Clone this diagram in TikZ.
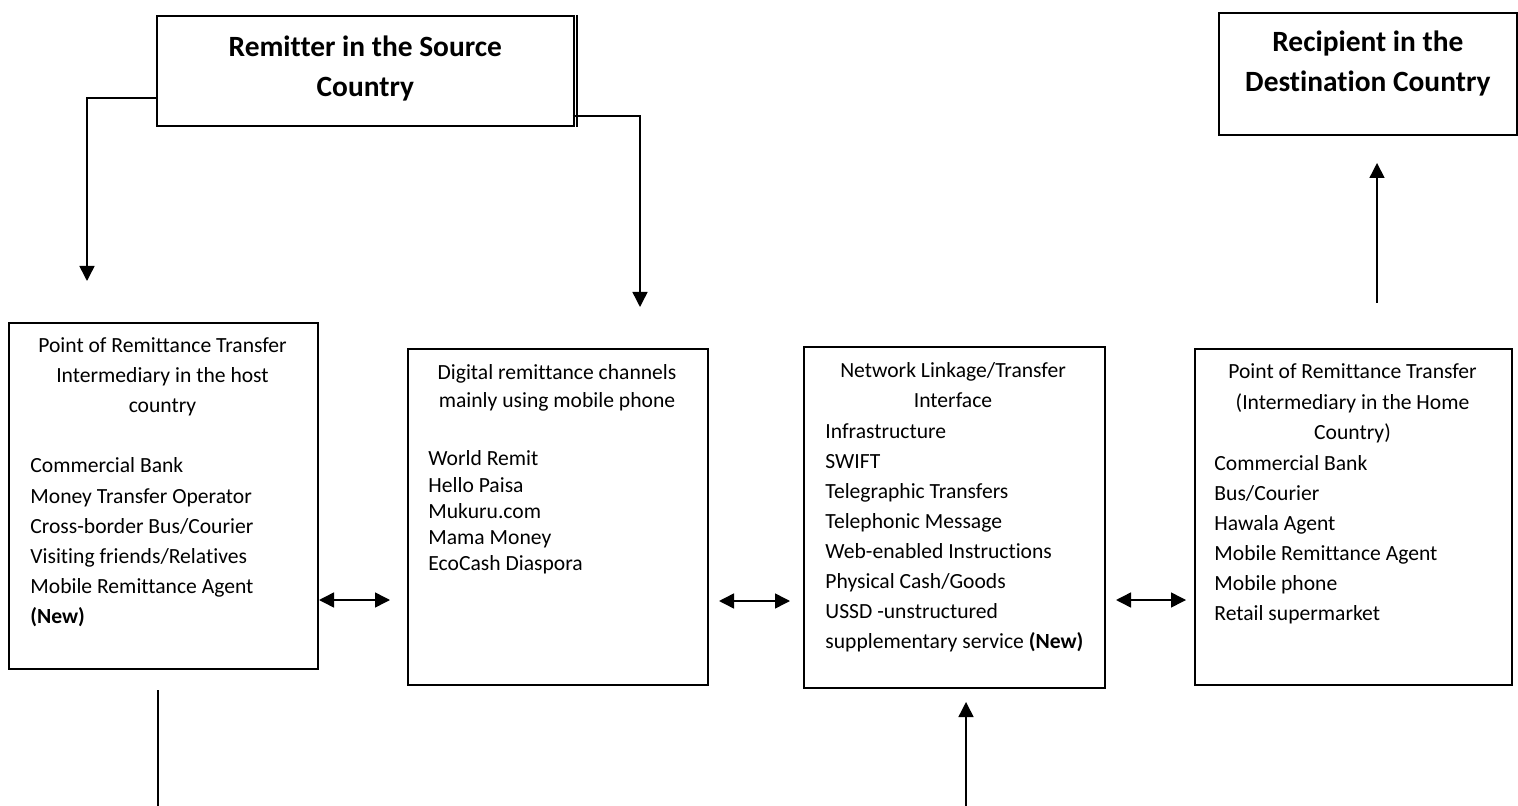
\documentclass[tikz,border=0pt]{standalone}
\usepackage{fontspec}
\setmainfont[Ligatures=NoCommon]{Carlito}
\usetikzlibrary{arrows.meta}
\begin{document}
\begin{tikzpicture}[x=0.5pt,y=-0.5pt,
  box/.style={draw, line width=0.8pt, inner sep=0pt, anchor=north west},
  body/.style={font=\fontsize{10.8}{12}\selectfont, inner sep=0pt},
  title/.style={font=\fontsize{14.7}{17}\selectfont\bfseries, inner sep=0pt, anchor=base},
  plain/.style={line width=0.75pt},
  link/.style={line width=0.75pt, -{Triangle[length=7.5pt,width=7.5pt]}},
  dlink/.style={line width=0.75pt, {Triangle[length=7.5pt,width=7.5pt]}-{Triangle[length=7.5pt,width=7.5pt]}},
]
\useasboundingbox (0,0) rectangle (1518,806);

% boxes
\node[box, minimum width=208.5pt, minimum height=55pt] (remitter) at (156,15) {};
\node[box, minimum width=149pt, minimum height=61pt] (recipient) at (1218,12) {};
\node[box, minimum width=154.5pt, minimum height=173pt] (host) at (8,322) {};
\node[box, minimum width=150pt, minimum height=168pt] (digital) at (407,348) {};
\node[box, minimum width=150.5pt, minimum height=170.5pt] (network) at (803,346) {};
\node[box, minimum width=158.5pt, minimum height=168pt] (home) at (1194,348) {};
% doubled right edge of the remitter box
\draw[line width=0.6pt] ([xshift=1.2pt]remitter.north east) -- ([xshift=1.2pt]remitter.south east);

% titles
\node[title] (rem1) at (remitter.north |- 0,57) {Remitter in the Source};
\node[title] (rem2) at (remitter.north |- 0,97) {Country};
\node[title] (rec1) at (recipient.north |- 0,52) {Recipient in the};
\node[title] (rec2) at (recipient.north |- 0,92) {Destination Country};

% host-country intermediary
\foreach \t [count=\i from 0] in {Point of Remittance Transfer, Intermediary in the host, country}
  \node[body, anchor=base] (hh\i) at ({162.5}, {353+30*\i}) {\t};
\foreach \t [count=\i from 0] in {Commercial Bank, Money Transfer Operator, Cross-border Bus/Courier,
    Visiting friends/Relatives, Mobile Remittance Agent, {\textbf{(New)}}}
  \node[body, anchor=base west] (hl\i) at (30, {473+30*\i}) {\t};

% digital channels
\foreach \t [count=\i from 0] in {Digital remittance channels, mainly using mobile phone}
  \node[body, anchor=base] (dh\i) at (557, {380+28*\i}) {\t};
\foreach \t [count=\i from 0] in {World Remit, Hello Paisa, Mukuru.com, Mama Money, EcoCash Diaspora}
  \node[body, anchor=base west] (dl\i) at (428, {466+26*\i}) {\t};

% network linkage
\foreach \t [count=\i from 0] in {Network Linkage/Transfer, Interface}
  \node[body, anchor=base] (nh\i) at (953, {378+30*\i}) {\t};
\foreach \t [count=\i from 0] in {Infrastructure, SWIFT, Telegraphic Transfers, Telephonic Message,
    Web-enabled Instructions, Physical Cash/Goods, USSD -unstructured,
    {supplementary service \textbf{(New)}}}
  \node[body, anchor=base west] (nl\i) at (825, {438+30*\i}) {\t};

% home-country intermediary
\foreach \t [count=\i from 0] in {{Point of Remittance Transfer}, {(Intermediary in the Home}, {Country)}}
  \node[body, anchor=base] (mh\i) at (1352.5, {379+30*\i}) {\t};
\foreach \t [count=\i from 0] in {Commercial Bank, Bus/Courier, Hawala Agent, Mobile Remittance Agent,
    Mobile phone, Retail supermarket}
  \node[body, anchor=base west] (ml\i) at (1214, {470+30*\i}) {\t};

% free ends of the connectors
\coordinate (leftTip) at (87,281);
\coordinate (rightTip) at (640,307);
\coordinate (upStart) at (1377,303);
\coordinate (upTip) at (1377,163);
\coordinate (blTop) at (158,690);
\coordinate (blEnd) at (158,806);
\coordinate (buStart) at (966,806);
\coordinate (buTip) at (966,702);
\coordinate (a1) at (319,600);
\coordinate (b1) at (390,600);
\coordinate (a2) at (719,601);
\coordinate (b2) at (790,601);
\coordinate (a3) at (1116,600);
\coordinate (b3) at (1186,600);

% connectors
\draw[link] (remitter.west |- 0,98) -| (leftTip);
\draw[link] ([xshift=-1pt]remitter.east |- 0,116) -| (rightTip);
\draw[link] (upStart) -- (upTip);
\draw[plain] (blTop) -- (blEnd);
\draw[link] (buStart) -- (buTip);
\draw[dlink] (a1) -- (b1);
\draw[dlink] (a2) -- (b2);
\draw[dlink] (a3) -- (b3);
\end{tikzpicture}
\end{document}
